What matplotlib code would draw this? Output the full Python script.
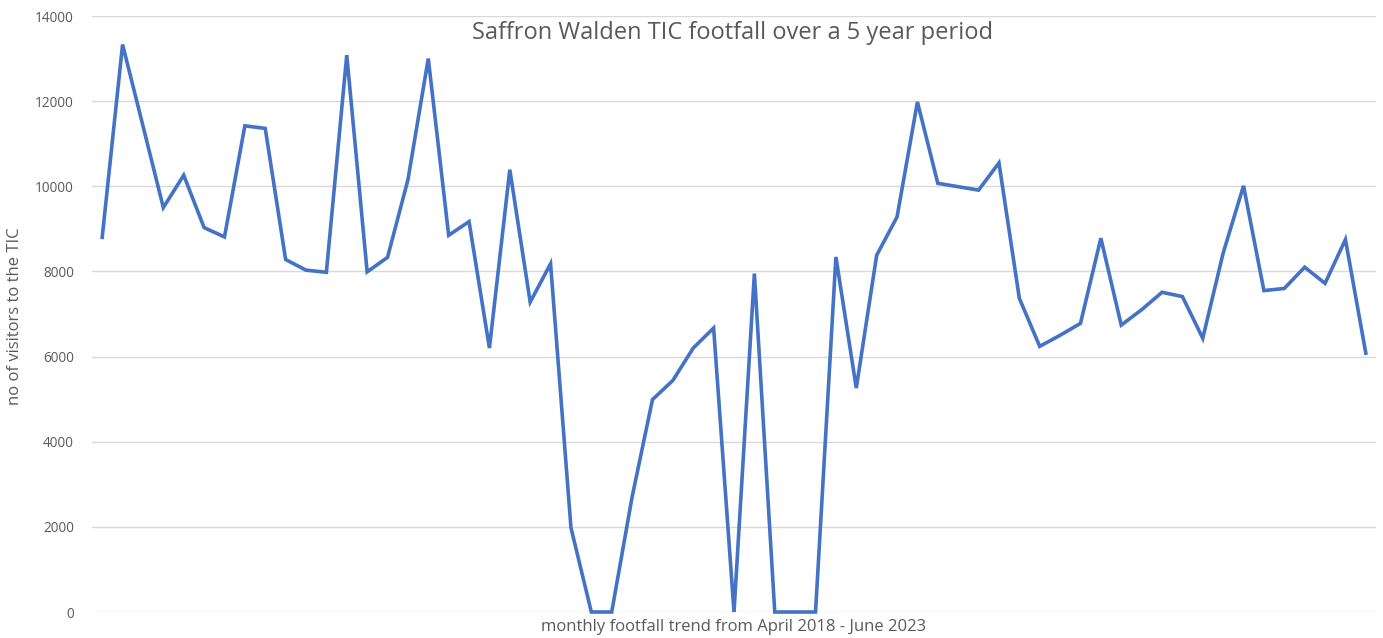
import matplotlib
matplotlib.use("Agg")
import matplotlib.pyplot as plt

# Monthly footfall, April 2018 - June 2023 (63 months)
visitors = [8800, 13330, 11420, 9500, 10260, 9030, 8810, 11420, 11360, 8280,
            8030, 7980, 13080, 7990, 8330, 10150, 13000, 8850, 9170, 6200,
            10390, 7280, 8180, 1980, 0, 0, 2700, 4990, 5440, 6200,
            6670, 0, 7950, 0, 0, 0, 8340, 5260, 8380, 9280,
            11980, 10070, 9990, 9910, 10550, 7370, 6240, 6500, 6780, 8780,
            6740, 7100, 7510, 7410, 6430, 8430, 10010, 7550, 7600, 8100,
            7720, 8750, 6080]
months = list(range(len(visitors)))
yticks = [0, 2000, 4000, 6000, 8000, 10000, 12000, 14000]

title = "Saffron Walden TIC footfall over a 5 year period"
xlabel = "monthly footfall trend from April 2018 - June 2023"
ylabel = "no of visitors to the TIC"

plt.rcParams['font.family'] = ['Open Sans', 'DejaVu Sans']

fig = plt.figure(figsize=(13.83, 6.38), dpi=100)
ax = fig.add_axes([92/1383, 26/638, (1376-92)/1383, (612-16)/638])
ax.plot(months, visitors, color='#4472C4', linewidth=2.6, solid_joinstyle='miter',
        clip_on=False)
ax.set_xlim(-0.5, len(visitors) - 0.5)
ax.set_ylim(0, 14000)
ax.set_yticks(yticks)
ax.set_xticks([])
ax.grid(axis='y', color='#d9d9d9', linewidth=1)
ax.set_axisbelow(True)
for s in ax.spines.values():
    s.set_visible(False)
ax.tick_params(axis='y', length=0, labelsize=9.8, labelcolor='#595959', pad=13)
ax.set_ylabel(ylabel, fontsize=12, color='#595959', va='center')
ax.yaxis.set_label_coords((15-92)/1284, (612-316)/596)
ax.set_xlabel(xlabel, fontsize=12, color='#595959', va='center')
ax.xaxis.set_label_coords(0.5, -(627-612)/596)
fig.text(733/1383, 1 - 33/638, title, ha='center', va='center', fontsize=17, color='#595959')

fig.savefig("out.png", dpi=100)
